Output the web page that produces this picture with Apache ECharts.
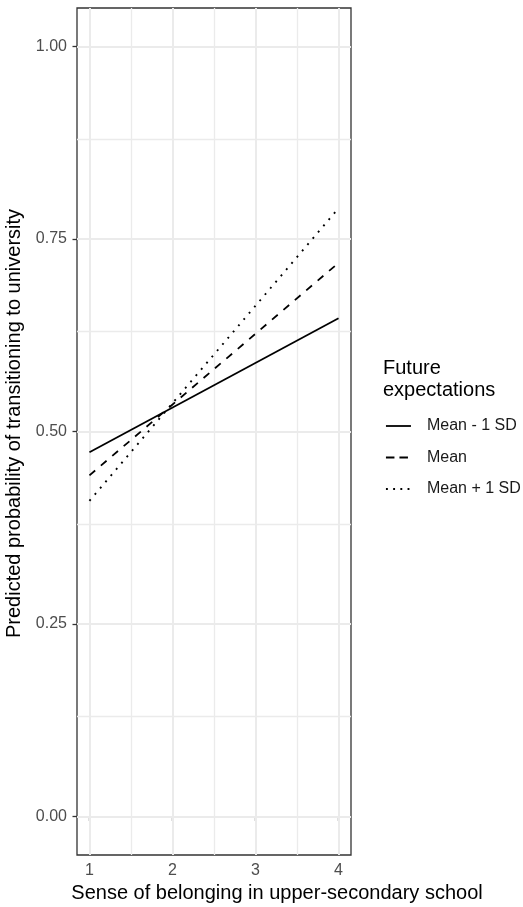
<!DOCTYPE html>
<html>
<head>
<meta charset="utf-8">
<script src="https://cdn.jsdelivr.net/npm/echarts@6/dist/echarts.min.js"></script>
<style>
html,body{margin:0;padding:0;background:#fff;}
#chart{width:523px;height:907px;}
</style>
</head>
<body>
<div id="chart"></div>
<script>
// Data
const xTicks = [1, 2, 3, 4];
const yTicks = [0, 0.25, 0.5, 0.75, 1];
const xMinor = [1.5, 2.5, 3.5];
const yMinor = [0.125, 0.375, 0.625, 0.875];
const seriesNames = ['Mean - 1 SD', 'Mean', 'Mean + 1 SD'];
const belongingX = [1, 4];
const lowValues = [0.473, 0.647];
const meanValues = [0.443, 0.719];
const highValues = [0.410, 0.790];

const FONT = 'Liberation Sans, Arial, sans-serif';
const chart = echarts.init(document.getElementById('chart'));

function pts(xs, ys) { return xs.map((x, i) => [x, ys[i]]); }

const gridData = []
  .concat(xMinor.map(v => ({ xAxis: v, lineStyle: { width: 1.3 } })))
  .concat(yMinor.map(v => ({ yAxis: v, lineStyle: { width: 1.3 } })))
  .concat(xTicks.map(v => ({ xAxis: v, lineStyle: { width: 2 } })))
  .concat(yTicks.map(v => ({ yAxis: v, lineStyle: { width: 2 } })));

const lineStyles = [
  { color: '#000', width: 1.8, type: 'solid' },
  { color: '#000', width: 1.8, type: [7.5, 7.5] },
  { color: '#000', width: 1.9, type: [1.9, 6.3], cap: 'butt' }
];
const legendLineStyles = [
  { color: '#000', width: 1.8, type: 'solid' },
  { color: '#000', width: 1.8, type: [8.5, 5] },
  { color: '#000', width: 1.9, type: [1.9, 5.3] }
];
const valueSets = [lowValues, meanValues, highValues];

const option = {
  animation: false,
  backgroundColor: '#fff',
  textStyle: { fontFamily: FONT },
  title: {
    text: 'Future\nexpectations',
    left: 383, top: 357, padding: 0,
    textStyle: { fontFamily: FONT, fontSize: 20, fontWeight: 'normal', color: '#000', lineHeight: 22 }
  },
  legend: {
    orient: 'vertical',
    left: 385, top: 418, padding: 0,
    itemWidth: 25, itemHeight: 14, itemGap: 15.5,
    itemStyle: { opacity: 0 },
    data: seriesNames.map((n, i) => ({ name: n, lineStyle: legendLineStyles[i] })),
    textStyle: { fontFamily: FONT, fontSize: 16, color: '#1a1a1a', padding: [0, 0, 0, 11] }
  },
  grid: {
    left: 77, right: 172, top: 8, bottom: 52,
    outerBoundsMode: 'none', containLabel: false,
    show: true, borderColor: '#333', borderWidth: 1.3, backgroundColor: '#fff'
  },
  xAxis: {
    type: 'value', min: 0.85, max: 4.15,
    name: 'Sense of belonging in upper-secondary school',
    nameLocation: 'middle', nameGap: 28,
    nameTextStyle: { fontFamily: FONT, fontSize: 20, color: '#000', padding: [0, 0, 0, 126] },
    axisLine: { show: false },
    splitLine: { show: false },
    axisTick: { show: true, length: 4.5, customValues: xTicks, lineStyle: { color: '#333', width: 1.3 } },
    axisLabel: { customValues: xTicks, margin: 8, fontFamily: FONT, fontSize: 16, color: '#4d4d4d' }
  },
  yAxis: {
    type: 'value', min: -0.05, max: 1.05,
    name: 'Predicted probability of transitioning to university',
    nameLocation: 'middle', nameGap: 41,
    nameTextStyle: { fontFamily: FONT, fontSize: 20, color: '#000', padding: [0, 0, 0, 16] },
    axisLine: { show: false },
    splitLine: { show: false },
    axisTick: { show: true, length: 4.5, customValues: yTicks, lineStyle: { color: '#333', width: 1.3 } },
    axisLabel: { customValues: yTicks, margin: 10, fontFamily: FONT, fontSize: 16, color: '#4d4d4d',
      formatter: v => v.toFixed(2) }
  },
  series: [
    {
      name: 'grid', type: 'line', data: [], z: 0, silent: true,
      markLine: {
        silent: true, symbol: 'none', label: { show: false },
        lineStyle: { color: '#ebebeb', type: 'solid' },
        emphasis: { disabled: true },
        data: gridData
      }
    }
  ].concat(seriesNames.map((n, i) => ({
    name: n, type: 'line', z: 5,
    data: pts(belongingX, valueSets[i]),
    symbol: 'none', showSymbol: false,
    lineStyle: lineStyles[i],
    itemStyle: { color: '#000' }
  })))
};
chart.setOption(option);
</script>
</body>
</html>
